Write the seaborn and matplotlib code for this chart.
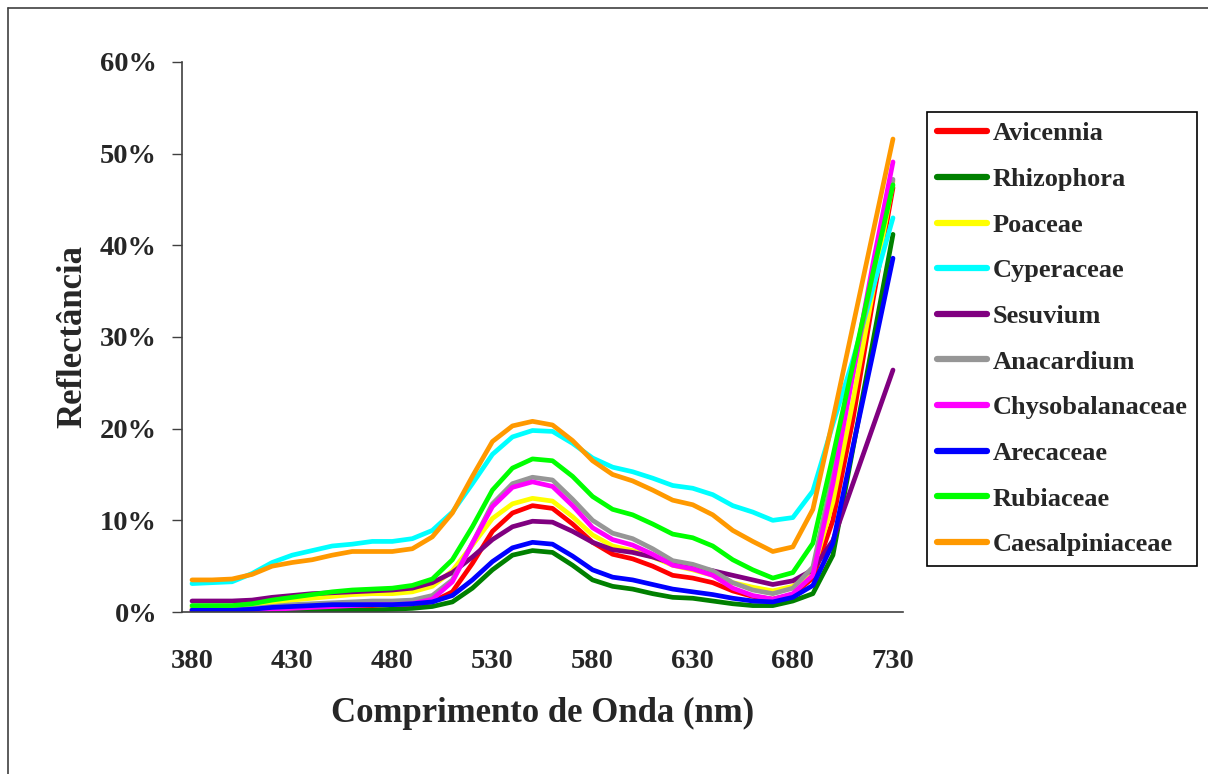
import numpy as np
import pandas as pd
import matplotlib
matplotlib.use("Agg")
import matplotlib.pyplot as plt
from matplotlib.ticker import PercentFormatter, MultipleLocator, FixedLocator
from matplotlib.lines import Line2D
import seaborn as sns

wavelengths = list(range(380, 740, 10))

avicennia = [0.2, 0.2, 0.2, 0.2, 0.3, 0.4, 0.5, 0.6, 0.7, 0.7, 0.8, 0.8, 1.1, 2.2, 5.3, 8.8, 10.8, 11.6,
             11.3, 9.6, 7.6, 6.3, 5.8, 5.0, 4.0, 3.7, 3.2, 2.3, 1.7, 1.4, 1.9, 3.7, 10.0, 21.0, 34.0, 46.3]
rhizophora = [0.0, 0.0, 0.0, 0.0, 0.0, 0.1, 0.1, 0.2, 0.2, 0.2, 0.3, 0.4, 0.6, 1.1, 2.6, 4.6, 6.2, 6.7,
              6.5, 5.1, 3.5, 2.8, 2.5, 2.0, 1.6, 1.5, 1.2, 0.9, 0.7, 0.7, 1.2, 2.0, 6.2, 17.8, 29.5, 41.2]
poaceae = [0.5, 0.5, 0.5, 0.7, 1.0, 1.3, 1.5, 1.7, 1.9, 2.0, 2.0, 2.2, 2.8, 4.5, 7.3, 10.2, 11.8, 12.4,
           12.1, 10.4, 8.4, 7.2, 6.7, 6.0, 5.1, 4.6, 4.0, 3.2, 2.7, 2.3, 2.8, 4.4, 12.0, 23.0, 35.0, 47.0]
cyperaceae = [3.1, 3.2, 3.3, 4.2, 5.4, 6.2, 6.7, 7.2, 7.4, 7.7, 7.7, 8.0, 8.9, 10.9, 14.0, 17.2, 19.1, 19.8,
              19.7, 18.4, 16.8, 15.8, 15.3, 14.6, 13.8, 13.5, 12.8, 11.6, 10.9, 10.0, 10.3, 13.2, 20.5, 27.5, 35.3, 43.0]
sesuvium = [1.2, 1.2, 1.2, 1.3, 1.6, 1.8, 2.0, 2.1, 2.2, 2.3, 2.4, 2.6, 3.2, 4.3, 6.0, 7.9, 9.3, 9.9,
            9.8, 8.8, 7.6, 6.8, 6.5, 6.0, 5.3, 4.9, 4.5, 4.0, 3.5, 3.0, 3.4, 4.6, 7.8, 14.0, 20.2, 26.4]
anacardium = [0.3, 0.3, 0.3, 0.4, 0.6, 0.8, 0.9, 1.0, 1.1, 1.2, 1.2, 1.3, 1.8, 3.5, 7.5, 11.8, 14.0, 14.7,
              14.4, 12.3, 10.0, 8.6, 8.0, 6.9, 5.6, 5.2, 4.5, 3.2, 2.4, 2.0, 2.6, 4.9, 15.0, 26.0, 37.0, 47.2]
chysobalanaceae = [0.1, 0.1, 0.1, 0.2, 0.3, 0.4, 0.5, 0.6, 0.7, 0.8, 0.8, 0.9, 1.4, 3.3, 7.5, 11.5, 13.6, 14.2,
                   13.7, 11.6, 9.2, 7.9, 7.3, 6.3, 5.1, 4.7, 4.0, 2.6, 1.8, 1.4, 2.0, 4.0, 14.0, 26.0, 38.0, 49.1]
arecaceae = [0.2, 0.2, 0.2, 0.3, 0.5, 0.6, 0.7, 0.8, 0.8, 0.8, 0.8, 0.9, 1.1, 1.8, 3.5, 5.5, 7.0, 7.6,
             7.4, 6.1, 4.6, 3.8, 3.5, 3.0, 2.5, 2.2, 1.9, 1.5, 1.2, 1.1, 1.6, 2.9, 7.5, 18.0, 28.2, 38.6]
rubiaceae = [0.7, 0.7, 0.7, 0.9, 1.3, 1.6, 1.9, 2.2, 2.4, 2.5, 2.6, 2.9, 3.6, 5.7, 9.3, 13.3, 15.7, 16.7,
             16.5, 14.8, 12.6, 11.2, 10.6, 9.6, 8.5, 8.1, 7.2, 5.7, 4.6, 3.7, 4.3, 7.5, 17.0, 27.0, 37.0, 46.6]
caesalpiniaceae = [3.5, 3.5, 3.6, 4.1, 5.0, 5.4, 5.7, 6.2, 6.6, 6.6, 6.6, 6.9, 8.2, 10.8, 14.8, 18.6, 20.3, 20.8,
                   20.4, 18.7, 16.5, 15.0, 14.3, 13.3, 12.2, 11.7, 10.6, 8.9, 7.7, 6.6, 7.1, 11.2, 21.0, 31.2, 41.4, 51.6]

names = ["Avicennia", "Rhizophora", "Poaceae", "Cyperaceae", "Sesuvium", "Anacardium",
         "Chysobalanaceae", "Arecaceae", "Rubiaceae", "Caesalpiniaceae"]
series = [avicennia, rhizophora, poaceae, cyperaceae, sesuvium, anacardium,
          chysobalanaceae, arecaceae, rubiaceae, caesalpiniaceae]
colors = ["#FF0000", "#008000", "#FFFF00", "#00FFFF", "#800080", "#969696",
          "#FF00FF", "#0000FF", "#00FF00", "#FF9900"]

frames = []
for n, s in zip(names, series):
    frames.append(pd.DataFrame({"wl": wavelengths, "refl": np.array(s) / 100.0, "especie": n}))
df = pd.concat(frames, ignore_index=True)

sns.set_style("white")
plt.rcParams["font.family"] = ["Liberation Serif", "DejaVu Serif"]
plt.rcParams["font.weight"] = "bold"

fig = plt.figure(figsize=(12.08, 7.74), dpi=100)
ax = fig.add_axes([182 / 1208, 1 - 612 / 774, (903 - 182) / 1208, (612 - 62) / 774])

sns.lineplot(data=df, x="wl", y="refl", hue="especie", hue_order=names,
             palette=dict(zip(names, colors)), linewidth=3.4, ax=ax, legend=True)

ax.set_xlim(375, 735)
ax.set_ylim(0, 0.6)
ax.yaxis.set_major_locator(MultipleLocator(0.1))
ax.yaxis.set_major_formatter(PercentFormatter(1.0, decimals=0))
ax.xaxis.set_major_locator(FixedLocator(list(range(380, 731, 50))))
ax.xaxis.set_minor_locator(FixedLocator([w - 5 for w in wavelengths] + [735]))
ax.tick_params(axis="x", which="major", length=0, pad=27, labelsize=20.5)
ax.tick_params(axis="x", which="minor", length=7, width=1, color="#404040", direction="out")
ax.tick_params(axis="y", which="major", length=7, width=1, color="#404040", direction="out",
               pad=11, labelsize=20.5, left=True)
for lab in ax.get_xticklabels() + ax.get_yticklabels():
    lab.set_fontweight("bold")

for side in ["top", "right"]:
    ax.spines[side].set_visible(False)
for side in ["left", "bottom"]:
    ax.spines[side].set_color("#404040")
    ax.spines[side].set_linewidth(1.2)

ax.set_xlabel("Comprimento de Onda (nm)", fontsize=25, fontweight="bold", labelpad=16)
ax.set_ylabel("Reflectância", fontsize=25, fontweight="bold", labelpad=8)

handles = [Line2D([0], [0], color=c, lw=4.5) for c in colors]
leg = ax.legend(handles, names, loc="upper left", bbox_to_anchor=(927 / 1208, 1 - 112 / 774),
                bbox_transform=fig.transFigure, borderaxespad=0, fontsize=19,
                frameon=True, fancybox=False, edgecolor="black", framealpha=1,
                handlelength=1.9, handletextpad=0.2, labelspacing=0.84, borderpad=0.38)
leg.get_frame().set_linewidth(1.2)
for t in leg.get_texts():
    t.set_fontweight("bold")

fig.add_artist(Line2D([8 / 1208, 1.0], [1 - 8 / 774, 1 - 8 / 774], transform=fig.transFigure,
                      color="#404040", lw=1.2))
fig.add_artist(Line2D([8 / 1208, 8 / 1208], [0, 1 - 8 / 774], transform=fig.transFigure,
                      color="#404040", lw=1.2))

fig.savefig("out.png", dpi=100, facecolor="white")
